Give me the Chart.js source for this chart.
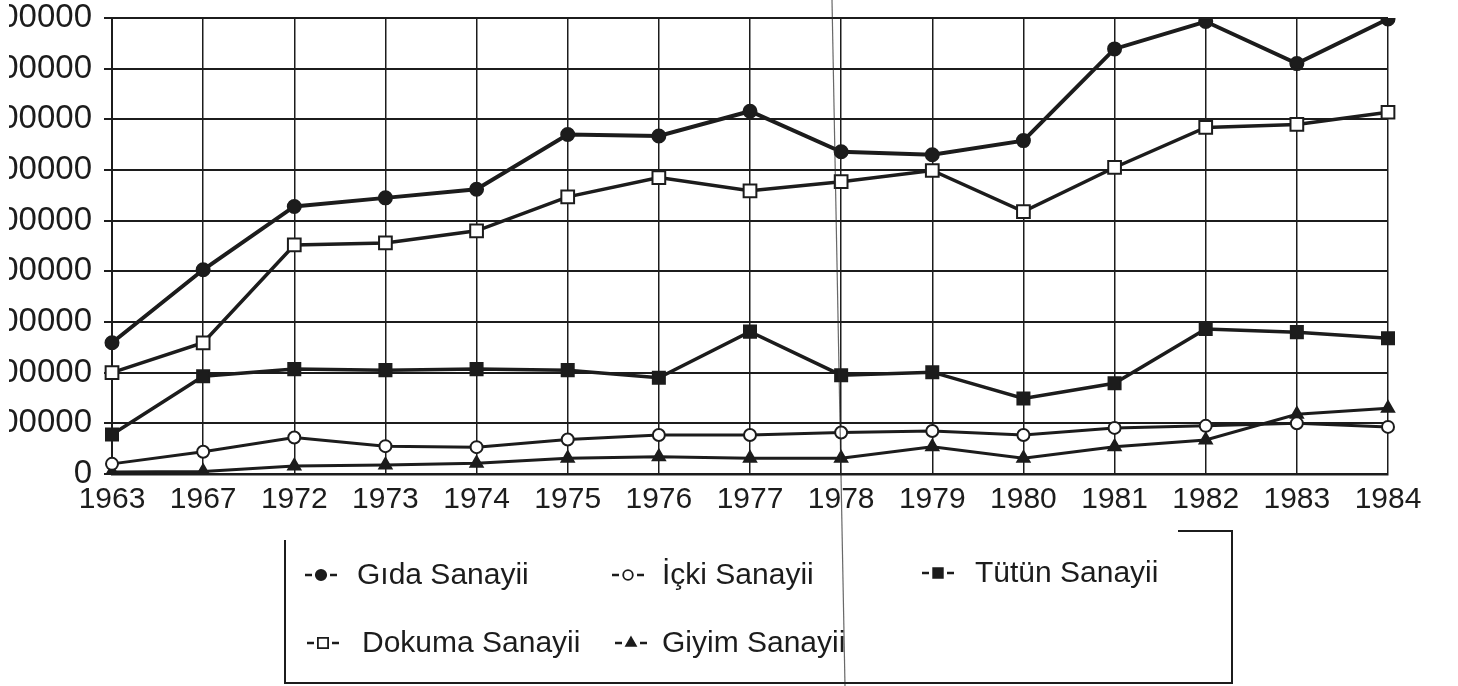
<!DOCTYPE html>
<html>
<head>
<meta charset="utf-8">
<script src="https://cdn.jsdelivr.net/npm/chart.js@4.4.1/dist/chart.umd.min.js"></script>
<style>
    html, body { margin: 0; padding: 0; background: #fff; }
    #kutu { position: relative; width: 1458px; height: 686px; }
    #kesik { position: absolute; left: 0; top: 0; width: 9px; height: 686px; background: #fff; }
</style>
</head>
<body>
<div id="kutu">
    <canvas id="grafik" width="1458" height="686"></canvas>
    <div id="kesik"></div>
</div>
<script>
// yillar ve sanayi kollarina gore degerler
const yillar = ["1963", "1967", "1972", "1973", "1974", "1975", "1976", "1977", "1978", "1979", "1980", "1981", "1982", "1983", "1984"];

const gidaDegerleri   = [259000, 403000, 528000, 545000, 562000, 670000, 667000, 716000, 636000, 630000, 658000, 839000, 893000, 810000, 898000];
const ickiDegerleri   = [20000, 44000, 72000, 55000, 53000, 68000, 77000, 77000, 82000, 85000, 77000, 91000, 95000, 100000, 93000];
const tutunDegerleri  = [78000, 193000, 207000, 205000, 207000, 205000, 190000, 281000, 195000, 201000, 149000, 179000, 286000, 280000, 268000];
const dokumaDegerleri = [200000, 259000, 452000, 456000, 480000, 547000, 585000, 559000, 577000, 599000, 518000, 605000, 684000, 690000, 714000];
const giyimDegerleri  = [4000, 5000, 16000, 18000, 21000, 31000, 34000, 31000, 31000, 54000, 31000, 54000, 67000, 118000, 130000];

const yEnAz = 0;
const yEnCok = 900000;
const yAdim = 100000;

const koyu = "#1c1c1c";
const yazi = "'Liberation Sans', Arial, Helvetica, sans-serif";

// lejant yerlesimi (sayfa koordinatlari)
const lejantYerleri = [
    { isaret: 321, metin: 357, y: 575 },
    { isaret: 628, metin: 662, y: 575 },
    { isaret: 938, metin: 975, y: 573 },
    { isaret: 323, metin: 362, y: 643 },
    { isaret: 631, metin: 662, y: 643 }
];

const lejantEklentisi = {
    id: "lejant",
    afterDraw(chart) {
        const ctx = chart.ctx;
        ctx.save();

        // lejant cercevesi
        ctx.strokeStyle = koyu;
        ctx.lineWidth = 2;
        ctx.beginPath();
        ctx.moveTo(285, 540);
        ctx.lineTo(285, 683);
        ctx.lineTo(1232, 683);
        ctx.lineTo(1232, 531);
        ctx.lineTo(1178, 531);
        ctx.stroke();

        // taramadaki kat izi
        ctx.strokeStyle = "rgba(40,40,40,0.7)";
        ctx.lineWidth = 1.2;
        ctx.beginPath();
        ctx.moveTo(832, 0);
        ctx.lineTo(845, 686);
        ctx.stroke();

        ctx.font = "30px " + yazi;
        ctx.textBaseline = "middle";

        chart.data.datasets.forEach((ds, i) => {
            let yer = lejantYerleri[i];
            ctx.strokeStyle = koyu;
            ctx.lineWidth = 2.5;
            ctx.beginPath();
            ctx.moveTo(yer.isaret - 16, yer.y);
            ctx.lineTo(yer.isaret - 9, yer.y);
            ctx.moveTo(yer.isaret + 9, yer.y);
            ctx.lineTo(yer.isaret + 16, yer.y);
            ctx.stroke();

            ctx.fillStyle = ds.pointBackgroundColor;
            ctx.strokeStyle = koyu;
            ctx.lineWidth = 1.8;
            Chart.helpers.drawPoint(ctx, {
                pointStyle: ds.pointStyle,
                radius: ds.pointRadius * 0.8,
                rotation: 0,
                borderWidth: 1.8
            }, yer.isaret, yer.y);

            ctx.fillStyle = koyu;
            ctx.fillText(ds.label, yer.metin, yer.y + 1);
        });

        ctx.restore();
    }
};

function seri(etiket, veri, stil, yaricap, dolgu, kalinlik) {
    return {
        label: etiket,
        data: veri,
        borderColor: koyu,
        borderWidth: kalinlik,
        pointStyle: stil,
        pointRadius: yaricap,
        pointBackgroundColor: dolgu,
        pointBorderColor: koyu,
        pointBorderWidth: 2,
        tension: 0,
        fill: false
    };
}

const ctx = document.getElementById("grafik").getContext("2d");
new Chart(ctx, {
    type: "line",
    data: {
        labels: yillar,
        datasets: [
            seri("Gıda Sanayii", gidaDegerleri, "circle", 6.5, koyu, 4),
            seri("İçki Sanayii", ickiDegerleri, "circle", 6, "#ffffff", 3),
            seri("Tütün Sanayii", tutunDegerleri, "rect", 8.5, koyu, 3.5),
            seri("Dokuma Sanayii", dokumaDegerleri, "rect", 9, "#ffffff", 3.5),
            seri("Giyim Sanayii", giyimDegerleri, "triangle", 7, koyu, 3)
        ]
    },
    options: {
        responsive: false,
        animation: false,
        layout: {
            autoPadding: false,
            padding: { top: 18, right: 70, bottom: 0, left: 0 }
        },
        plugins: {
            legend: { display: false },
            tooltip: { enabled: false }
        },
        scales: {
            x: {
                type: "category",
                offset: false,
                afterFit: (scale) => {
                    scale.height = 212;
                    scale.paddingLeft = 0;
                    scale.paddingRight = 0;
                },
                grid: {
                    color: koyu,
                    lineWidth: 1.5,
                    drawTicks: false
                },
                border: { color: koyu, width: 2.5 },
                ticks: {
                    color: koyu,
                    padding: 8,
                    maxRotation: 0,
                    autoSkip: false,
                    font: { family: yazi, size: 30 }
                }
            },
            y: {
                min: yEnAz,
                max: yEnCok,
                afterFit: (scale) => {
                    scale.width = 112;
                    scale.paddingTop = 0;
                    scale.paddingBottom = 0;
                },
                grid: {
                    color: koyu,
                    lineWidth: 2,
                    tickLength: 8
                },
                border: { color: koyu, width: 2 },
                ticks: {
                    stepSize: yAdim,
                    color: koyu,
                    padding: 12,
                    font: { family: yazi, size: 33 },
                    callback: (deger) => String(deger)
                }
            }
        }
    },
    plugins: [lejantEklentisi]
});
</script>
</body>
</html>
